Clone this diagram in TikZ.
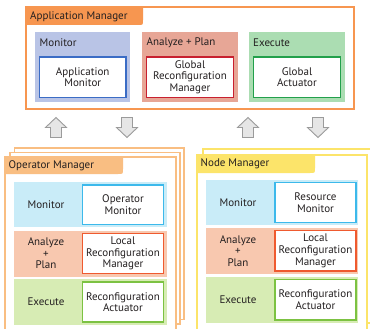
\documentclass[tikz,border=0pt]{standalone}
\usepackage{fontspec}
\setmainfont{PT Sans}
\usetikzlibrary{fit}

\definecolor{ink}{RGB}{35,31,32}
% application level
\definecolor{amFrame}{RGB}{247,150,80}
\definecolor{amMonFill}{RGB}{185,196,230}
\definecolor{amMonLine}{RGB}{59,108,197}
\definecolor{amAnaFill}{RGB}{231,166,150}
\definecolor{amAnaLine}{RGB}{200,32,47}
\definecolor{amExeFill}{RGB}{171,221,178}
\definecolor{amExeLine}{RGB}{34,160,75}
% operator / node level
\definecolor{opFrame}{RGB}{249,190,130}
\definecolor{ndFrame}{RGB}{252,228,106}
\definecolor{loMonFill}{RGB}{201,236,248}
\definecolor{loMonLine}{RGB}{60,185,235}
\definecolor{loAnaFill}{RGB}{248,200,175}
\definecolor{loAnaLine}{RGB}{239,90,47}
\definecolor{loExeFill}{RGB}{215,236,180}
\definecolor{loExeLine}{RGB}{124,194,66}
% exchange arrows
\definecolor{arrFill}{RGB}{230,230,230}
\definecolor{arrLine}{RGB}{155,155,155}

\tikzset{
  txt/.style={text=ink, font=\fontsize{11}{11.6}\selectfont, inner sep=0pt, align=center},
  panel/.style={inner sep=0pt, outer sep=0pt, draw=none},
  wbox/.style={inner sep=0pt, outer sep=0pt, fill=white, line width=1.7pt},
  frame/.style={inner sep=0pt, outer sep=0pt, fill=white, line width=1.5pt},
  arrowbody/.style={fill=arrFill, draw=arrLine, line width=0.9pt, line join=miter},
  uparr/.pic={\path[arrowbody] (0,0) -- (10.5,10) -- (5.5,10) -- (5.5,20) -- (-5.5,20) -- (-5.5,10) -- (-10.5,10) -- cycle;},
  downarr/.pic={\path[arrowbody] (0,20) -- (10.5,10) -- (5.5,10) -- (5.5,0) -- (-5.5,0) -- (-5.5,10) -- (-10.5,10) -- cycle;},
}

\begin{document}
\begin{tikzpicture}[x=1pt,y=-1pt]
\useasboundingbox (0,0) rectangle (370,329);
\clip (0,0) rectangle (370,329);

% ---------------- Application Manager ----------------
\node[frame, draw=amFrame, line width=1.8pt, fit={(26,7)(354,109)}] (am) {};
\fill[amFrame] (26,7) -- (143,7) -- (143,20) .. controls (143,25) .. (138,25) -- (26,25) -- cycle;
\node[txt, anchor=west] (amTitle) at (30,16.5) {Application Manager};

\node[panel, fill=amMonFill, fit={(35,32)(130,102)}] (amMonP) {};
\node[panel, fill=amAnaFill, fit={(142,32)(238,102)}] (amAnaP) {};
\node[panel, fill=amExeFill, fit={(249,32)(345,102)}] (amExeP) {};
\node[txt, anchor=west] (amMonL) at (39.5,43) {Monitor};
\node[txt, anchor=west] (amAnaL) at (146.5,43) {Analyze + Plan};
\node[txt, anchor=west] (amExeL) at (253,43) {Execute};
\node[wbox, draw=amMonLine, fit={(39.5,57)(126,97.5)}] (amMon) {};
\node[wbox, draw=amAnaLine, fit={(146.5,57)(233.5,97.5)}] (amAna) {};
\node[wbox, draw=amExeLine, fit={(253.5,57)(340.5,97.5)}] (amExe) {};
\node[txt] (amMonT) at (amMon) {Application\\Monitor};
\node[txt] (amAnaT) at (amAna) {Global\\Reconfiguration\\Manager};
\node[txt] (amExeT) at (amExe) {Global\\Actuator};

% ---------------- exchange arrows ----------------
\pic at (56,117.5) {uparr};
\pic at (127,117.5) {downarr};
\pic at (248,117.5) {uparr};
\pic at (318,117.5) {downarr};

% ---------------- Operator Manager (stacked instances) ----------------
\node[frame, draw=opFrame, fit={(14.5,148)(184,319.5)}] (op3) {};
\node[frame, draw=opFrame, fit={(10,152.5)(180,324)}] (op2) {};
\node[frame, draw=opFrame, fit={(5,157)(176,340)}] (op) {};
\fill[opFrame] (5,157) -- (123,157) -- (123,169) .. controls (123,174) .. (118,174) -- (5,174) -- cycle;
\node[txt, anchor=west] (opTitle) at (8.5,166) {Operator Manager};

\node[panel, fill=loMonFill, fit={(14,182)(167,227)}] (opMonP) {};
\node[panel, fill=loAnaFill, fit={(14,230.5)(167,276.5)}] (opAnaP) {};
\node[panel, fill=loExeFill, fit={(14,279)(167,325)}] (opExeP) {};
\node[wbox, draw=loMonLine, fit={(82.5,185)(163.5,224.5)}] (opMon) {};
\node[wbox, draw=loAnaLine, fit={(82.5,233.5)(163.5,273.5)}] (opAna) {};
\node[wbox, draw=loExeLine, fit={(82.5,282)(163.5,322)}] (opExe) {};
\node[txt] (opMonL) at (46,204.5) {Monitor};
\node[txt] (opAnaL) at (46,253.5) {Analyze\\+\\Plan};
\node[txt] (opExeL) at (46,302) {Execute};
\node[txt] (opMonT) at (opMon) {Operator\\Monitor};
\node[txt] (opAnaT) at (opAna) {Local\\Reconfiguration\\Manager};
\node[txt] (opExeT) at (opExe) {Reconfiguration\\Actuator};

% ---------------- Node Manager (stacked instances) ----------------
\node[frame, draw=ndFrame, fit={(203,149)(373,323)}] (nd2) {};
\node[frame, draw=ndFrame, fit={(197,155)(367,340)}] (nd) {};
\fill[ndFrame] (197,155) -- (315,155) -- (315,168) .. controls (315,173) .. (310,173) -- (197,173) -- cycle;
\node[txt, anchor=west] (ndTitle) at (200.5,164) {Node Manager};

\node[panel, fill=loMonFill, fit={(206,180)(358,225)}] (ndMonP) {};
\node[panel, fill=loAnaFill, fit={(206,227.5)(358,274)}] (ndAnaP) {};
\node[panel, fill=loExeFill, fit={(206,276.5)(358,322.5)}] (ndExeP) {};
\node[wbox, draw=loMonLine, fit={(275,182.5)(356,222.5)}] (ndMon) {};
\node[wbox, draw=loAnaLine, fit={(275,230.5)(356,271)}] (ndAna) {};
\node[wbox, draw=loExeLine, fit={(275,279.5)(356,320)}] (ndExe) {};
\node[txt] (ndMonL) at (238,202.5) {Monitor};
\node[txt] (ndAnaL) at (238,251) {Analyze\\+\\Plan};
\node[txt] (ndExeL) at (238,299.5) {Execute};
\node[txt] (ndMonT) at (ndMon) {Resource\\Monitor};
\node[txt] (ndAnaT) at (ndAna) {Local\\Reconfiguration\\Manager};
\node[txt] (ndExeT) at (ndExe) {Reconfiguration\\Actuator};
\end{tikzpicture}
\end{document}
